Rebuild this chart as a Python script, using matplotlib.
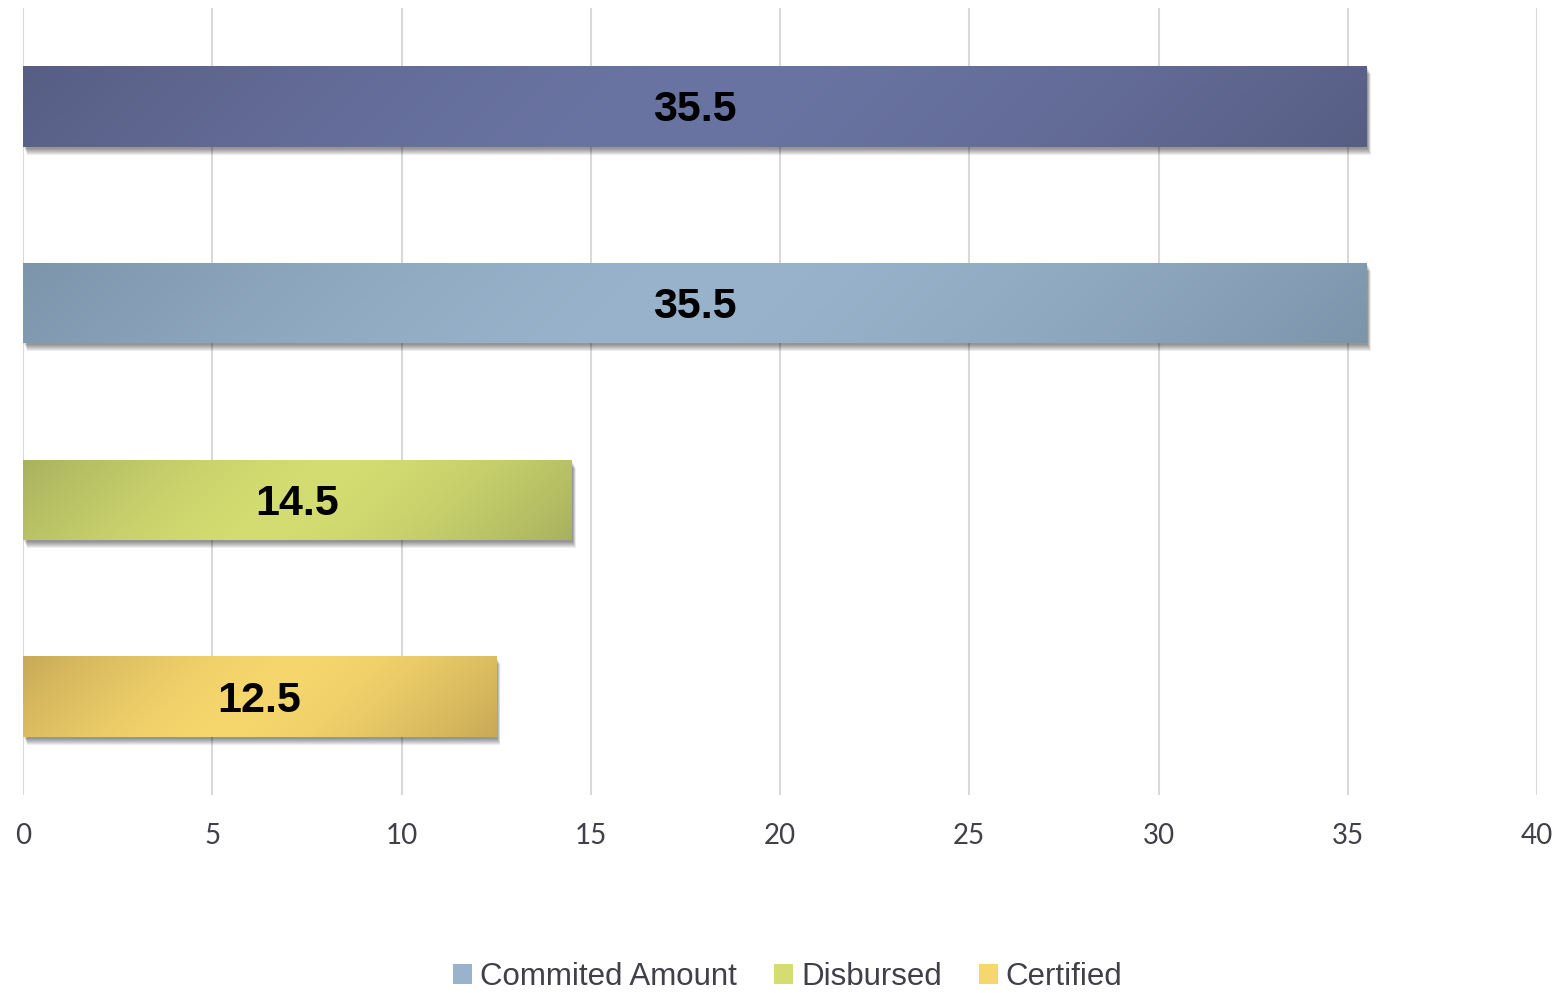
import numpy as np
import matplotlib
matplotlib.use('Agg')
import matplotlib.pyplot as plt
import matplotlib.transforms as mtransforms
from matplotlib.patches import Rectangle
from matplotlib.colors import to_rgb

# --- data ---
categories = ['Total', 'Commited Amount', 'Disbursed', 'Certified']
values = [35.5, 35.5, 14.5, 12.5]
in_legend = [False, True, True, True]
# (edge colour, centre colour) of the diagonal gradient on each bar
edge_cols = ['#575e84', '#7d95ab', '#a8b25e', '#c8aa57']
mid_cols = ['#6a74a2', '#98b3cb', '#d4dd71', '#f6d76d']
xticks = [0, 5, 10, 15, 20, 25, 30, 35, 40]

W, H, DPI = 15.6, 9.93, 100
fig = plt.figure(figsize=(W, H), dpi=DPI, facecolor='white')
ax = fig.add_axes([23 / 1560, 1 - 795 / 993, (1537 - 23) / 1560, (795 - 8) / 993])

ax.set_xlim(0, 40)
ax.set_ylim(len(values) - 0.5, -0.5)
ax.set_xticks(xticks)
ax.set_yticks([])
ax.tick_params(axis='x', length=0, pad=20, labelsize=20, labelcolor='#404048')
for lab in ax.get_xticklabels():
    lab.set_family(['Lato', 'DejaVu Sans'])
for s in ax.spines.values():
    s.set_visible(False)
ax.grid(axis='x', color='#d9d9d9', lw=1.5)
ax.set_axisbelow(True)

bar_h = 0.41
ax_w_px = (1537 - 23)
ax_h_px = (795 - 8)
lab_tr = mtransforms.offset_copy(ax.transData, fig=fig, x=0, y=-4, units='dots')
for i, (v, ec, mc) in enumerate(zip(values, edge_cols, mid_cols)):
    y0 = i - bar_h / 2
    # soft drop shadow
    for k in range(7):
        off = mtransforms.offset_copy(ax.transData, fig=fig, x=1.0 + 0.5 * k,
                                      y=-(2.0 + 1.0 * k), units='dots')
        ax.add_patch(Rectangle((0, y0), v, bar_h, transform=off, fc='black',
                               ec='none', alpha=0.07, zorder=2))
    # diagonal gradient: dark at corners, light in the middle
    wpx = v / 40 * ax_w_px
    hpx = bar_h / 4 * ax_h_px
    nx, ny = 300, 40
    xx, yy = np.meshgrid(np.linspace(0, wpx, nx), np.linspace(0, hpx, ny))
    t = (xx + yy) / (wpx + hpx)
    w = np.abs(2 * t - 1) ** 1.6
    c0 = np.array(to_rgb(ec))
    c1 = np.array(to_rgb(mc))
    img = c1[None, None, :] * (1 - w[..., None]) + c0[None, None, :] * w[..., None]
    im = ax.imshow(img, extent=(0, v, y0 + bar_h, y0), aspect='auto',
                   interpolation='bilinear', zorder=3)
    rect = Rectangle((0, y0), v, bar_h, fc='none', ec='none', zorder=3)
    ax.add_patch(rect)
    im.set_clip_path(rect)
    ax.text(v / 2, i, f'{v:g}', ha='center', va='center', fontsize=31,
            fontweight='bold', color='black', family=['Liberation Sans', 'DejaVu Sans'],
            transform=lab_tr, zorder=4)

ax.set_xlim(0, 40)
ax.set_ylim(len(values) - 0.5, -0.5)

handles = []
labels = []
for cat, mc, show in zip(categories, mid_cols, in_legend):
    if show:
        handles.append(Rectangle((0, 0), 1, 1, fc=mc, ec='none'))
        labels.append(cat)
leg = fig.legend(handles, labels, loc='center', bbox_to_anchor=(788 / 1560, 1 - 977 / 993),
                 ncol=3, frameon=False, handlelength=0.6, handleheight=0.6,
                 handletextpad=0.25, columnspacing=1.2,
                 prop={'family': ['Liberation Sans', 'DejaVu Sans'], 'size': 22.5})
for t in leg.get_texts():
    t.set_color('#404048')

fig.savefig('out.png', dpi=DPI, facecolor='white')
